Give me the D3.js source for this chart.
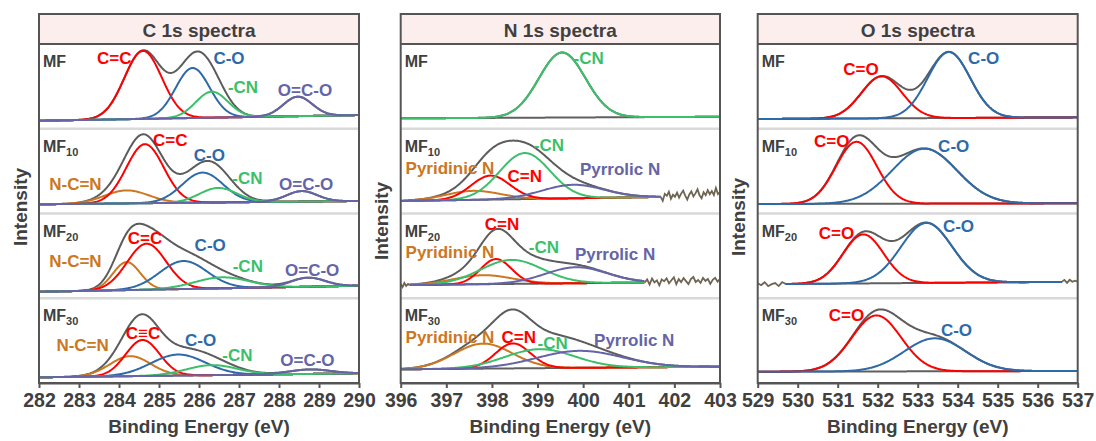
<!DOCTYPE html>
<html>
<head>
<meta charset="utf-8">
<script src="https://cdn.jsdelivr.net/npm/d3@7"></script>
<style>
body { margin: 0; background: #fff; }
text { font-family: "Liberation Sans", Arial, sans-serif; font-weight: bold; }
</style>
</head>
<body>
<div id="chart"></div>
<script>
// ---- data ----
var titles = ["C 1s spectra", "N 1s spectra", "O 1s spectra"];
var sampleNames = ["MF", "MF", "MF", "MF"];
var sampleSubs = ["", "10", "20", "30"];
var energyRanges = [[282, 290], [396, 403], [529, 537]];
var cTicks = [282, 283, 284, 285, 286, 287, 288, 289, 290];
var nTicks = [396, 397, 398, 399, 400, 401, 402, 403];
var oTicks = [529, 530, 531, 532, 533, 534, 535, 536, 537];

// fitted components: [centre eV, height, FWHM eV], null = not fitted
var cNames = ["N-C=N", "C=C", "C-O", "-CN", "O=C-O"];
var cPeaks = [
  [null, [284.60, 68, 1.10], [285.84, 50, 1.00], [286.32, 26, 0.95], [288.47, 19.5, 0.85]],
  [[284.19, 13, 1.30], [284.65, 59, 1.10], [286.09, 30, 1.20], [286.48, 14.5, 1.10], [288.57, 10.5, 0.90]],
  [[284.19, 28, 0.80], [284.69, 46, 1.15], [285.61, 28, 1.40], [286.57, 11, 1.60], [288.73, 9, 1.00]],
  [[284.28, 20, 1.20], [284.59, 36, 1.00], [285.48, 21, 1.60], [286.32, 10, 1.50], [288.78, 4.5, 1.20]]
];
var cBackground = [[2, 7.7], [3.2, 6.5], [0.5, 6.5], [-0.3, 3.7]];

var nNames = ["Pyridinic N", "C=N", "-CN", "Pyrrolic N"];
var nPeaks = [
  [null, null, [399.54, 65, 1.20], null],
  [[397.59, 9, 1.40], [397.97, 24, 1.00], [398.72, 46, 1.30], [399.78, 13.5, 1.60]],
  [[397.81, 9, 1.50], [398.09, 25, 0.80], [398.43, 24, 1.60], [399.85, 16, 1.60]],
  [[397.81, 25, 1.50], [398.46, 25, 0.90], [399.05, 19, 1.80], [399.92, 17, 2.20]]
];
var nBackground = [[4.4, 6], [6.5, 11.5], [7.2, 10.5], [7.7, 10.3]];

var oNames = ["C=O", "C-O"];
var oPeaks = [
  [[532.10, 42, 1.20], [533.78, 66, 1.25]],
  [[531.47, 62, 1.20], [533.17, 55, 1.90]],
  [[531.64, 49, 1.20], [533.22, 60, 1.50]],
  [[531.97, 56, 1.45], [533.43, 33, 1.80]]
];
var oBackground = [[3.75, 5.4], [3.5, 4.2], [8, 10.5], [5.3, 6]];

// energy window of each fit; outside it only raw counts are shown
var nFitRange = [[396, 403], [396, 401.7], [396.2, 401.35], [396, 403]];
var oFitRange = [[529, 537], [529, 537], [529.7, 536.6], [529, 537]];

// raw counts outside the fit window (offset from background)
var nRaw = [
  [],
  [{from: 401.7, to: 403, values: [0, -4, 3, 1, 5, -2, 2, 0, 4, -1, 3, 6, 1, -3, 2, 5, 0, 3, 7, 1, -2, 4, 1, 6, 2, 5, 1, 8, 2, 4]}],
  [{from: 396, to: 396.2, values: [1, -2, 2, -1, 1, 0]},
   {from: 401.35, to: 403, values: [0, 3, -2, 4, 0, 2, -3, 3, 1, 4, -1, 2, 5, -2, 3, 0, 4, 1, -2, 3, 5, 0, 2, -1, 4, 1, 3, -2, 2, 4, 0, 3]}],
  []
];
var oRaw = [
  [],
  [],
  [{from: 529, to: 529.7, values: [1, -1, 2, -2, 0, 1, -2, 2, 0]},
   {from: 536.6, to: 537, values: [0, 2, -1, 2, 0, 1, 0]}],
  []
];

var colorMap = {
  "N-C=N": "#cc7722", "Pyridinic N": "#cc7722",
  "C=C": "#ff0000", "C=N": "#ff0000", "C=O": "#ff0000",
  "C-O": "#2f6aa8",
  "-CN": "#3cbf6a",
  "O=C-O": "#6464a6", "Pyrrolic N": "#6464a6"
};

// ---- layout ----
var labelAt = {
  C: [
    [["C=C", 283.88, 64.75], ["C-O", 286.75, 64.75], ["-CN", 287.1, 35.75], ["O=C-O", 288.65, 32.75]],
    [["C=C", 285.28, 67.5], ["C-O", 286.26, 52.5], ["-CN", 287.21, 29.5], ["N-C=N", 282.91, 23.5], ["O=C-O", 288.68, 23.5]],
    [["C=C", 284.65, 54], ["N-C=N", 282.91, 30.5], ["C-O", 286.28, 47.25], ["-CN", 287.22, 25.5], ["O=C-O", 288.83, 22.25]],
    [["C\u2261C", 284.6, 44, "C=C"], ["N-C=N", 283.09, 32], ["C-O", 286.04, 37], ["-CN", 286.96, 22], ["O=C-O", 288.71, 17]]
  ],
  N: [
    [["-CN", 400.12, 64.75]],
    [["-CN", 399.25, 62.5], ["Pyridinic N", 397.08, 39.2], ["C=N", 398.72, 30.8], ["Pyrrolic N", 400.81, 38.5]],
    [["C=N", 398.22, 68.25], ["Pyridinic N", 397.08, 40], ["-CN", 399.14, 45], ["Pyrrolic N", 400.7, 38.25]],
    [["Pyridinic N", 397.08, 39.3], ["C=N", 398.59, 39.3], ["-CN", 399.33, 33.7], ["Pyrrolic N", 401.12, 37]]
  ],
  O: [
    [["C=O", 531.58, 53.75], ["C-O", 534.65, 64.4]],
    [["C=O", 530.85, 65.8], ["C-O", 533.9, 61.5]],
    [["C=O", 530.97, 59.25], ["C-O", 534.02, 65.6]],
    [["C=O", 531.22, 62], ["C-O", 533.97, 46.3]]
  ]
};

var panels = [
  {title: titles[0], range: energyRanges[0], ticks: cTicks, names: cNames, peaks: cPeaks, bg: cBackground,
   fit: null, raw: null, labels: labelAt.C, left: 39, right: 359, intensityY: 207},
  {title: titles[1], range: energyRanges[1], ticks: nTicks, names: nNames, peaks: nPeaks, bg: nBackground,
   fit: nFitRange, raw: nRaw, labels: labelAt.N, left: 400.7, right: 720, intensityY: 221},
  {title: titles[2], range: energyRanges[2], ticks: oTicks, names: oNames, peaks: oPeaks, bg: oBackground,
   fit: oFitRange, raw: oRaw, labels: labelAt.O, left: 757.7, right: 1077.7, intensityY: 217}
];

var width = 1096, height = 441;
var frameTop = 14, plotTop = 44, plotBottom = 383;
var rowH = (plotBottom - plotTop) / 4;
var textColor = "#404040", frameColor = "#555555";

var svg = d3.select("#chart").append("svg")
  .attr("width", width)
  .attr("height", height);

function gauss(p, e) {
  return p[1] * Math.exp(-4 * Math.LN2 * (e - p[0]) * (e - p[0]) / (p[2] * p[2]));
}

panels.forEach(function(pan) {
  var g = svg.append("g");
  var x = d3.scaleLinear().domain(pan.range).range([pan.left, pan.right]);

  // title box
  g.append("rect")
    .attr("x", pan.left).attr("y", frameTop)
    .attr("width", pan.right - pan.left).attr("height", plotTop - frameTop)
    .attr("fill", "#fdeeee");
  g.append("text")
    .attr("x", (pan.left + pan.right) / 2).attr("y", (frameTop + plotTop) / 2 + 1)
    .attr("text-anchor", "middle").attr("dominant-baseline", "central")
    .style("font-size", "19px").attr("fill", textColor)
    .text(pan.title);

  // row separators
  for (var r = 1; r < 4; r++) {
    g.append("line")
      .attr("x1", pan.left).attr("x2", pan.right)
      .attr("y1", plotTop + r * rowH).attr("y2", plotTop + r * rowH)
      .attr("stroke", "#d9d9d9").attr("stroke-width", 2.5);
  }

  sampleNames.forEach(function(s, r) {
    var rowTop = plotTop + r * rowH;
    var zero = rowTop + rowH - 6;
    var y = d3.scaleLinear().domain([0, 80]).range([zero, zero - 80]);
    var bgL = pan.bg[r][0], bgR = pan.bg[r][1];
    var bg = function(e) {
      return bgL + (bgR - bgL) * (e - pan.range[0]) / (pan.range[1] - pan.range[0]);
    };
    var fr = pan.fit ? pan.fit[r] : pan.range;
    var grid = d3.range(fr[0], fr[1] + 0.001, 0.02);
    var line = d3.line().x(function(d) { return x(d[0]); }).y(function(d) { return y(d[1]); });
    var rowPeaks = pan.peaks[r];

    // raw counts outside the fit window
    if (pan.raw) {
      pan.raw[r].forEach(function(seg) {
        var step = (seg.to - seg.from) / (seg.values.length - 1);
        var pts = seg.values.map(function(v, i) {
          var e = seg.from + i * step;
          return [e, bg(e) + v];
        });
        g.append("path").attr("d", line(pts))
          .attr("fill", "none").attr("stroke", "#6e6452").attr("stroke-width", 1.8);
      });
    }

    // background
    g.append("path")
      .attr("d", line(grid.map(function(e) { return [e, bg(e)]; })))
      .attr("fill", "none").attr("stroke", "#606060").attr("stroke-width", 2);

    // envelope
    g.append("path")
      .attr("d", line(grid.map(function(e) {
        var s = bg(e);
        rowPeaks.forEach(function(p) { if (p) s += gauss(p, e); });
        return [e, s];
      })))
      .attr("fill", "none").attr("stroke", "#5c5c5c").attr("stroke-width", 2);

    // components
    rowPeaks.forEach(function(p, k) {
      if (!p) return;
      g.append("path")
        .attr("d", line(grid.map(function(e) { return [e, bg(e) + gauss(p, e)]; })))
        .attr("fill", "none").attr("stroke", colorMap[pan.names[k]]).attr("stroke-width", 2);
    });

    // sample label
    var t = g.append("text")
      .attr("x", pan.left + 4).attr("y", rowTop + 23)
      .attr("fill", textColor).style("font-size", "16px")
      .text(s);
    if (sampleSubs[r]) {
      t.append("tspan").attr("dy", 4).style("font-size", "11px").text(sampleSubs[r]);
    }

    // peak labels
    pan.labels[r].forEach(function(l) {
      g.append("text")
        .attr("x", x(l[1])).attr("y", y(l[2]))
        .attr("text-anchor", "middle").attr("dominant-baseline", "central")
        .style("font-size", "17px")
        .attr("fill", colorMap[l[3] || l[0]])
        .text(l[0]);
    });
  });

  // frame
  g.append("rect")
    .attr("x", pan.left).attr("y", frameTop)
    .attr("width", pan.right - pan.left).attr("height", plotBottom - frameTop)
    .attr("fill", "none").attr("stroke", frameColor).attr("stroke-width", 2);
  g.append("line")
    .attr("x1", pan.left).attr("x2", pan.right)
    .attr("y1", plotTop).attr("y2", plotTop)
    .attr("stroke", frameColor).attr("stroke-width", 2);

  // x axis
  var ax = g.append("g")
    .attr("transform", "translate(0," + plotBottom + ")")
    .call(d3.axisBottom(x).tickValues(pan.ticks).tickSize(5).tickSizeOuter(0).tickFormat(d3.format("d")));
  ax.select(".domain").attr("stroke", frameColor).attr("stroke-width", 2);
  ax.selectAll(".tick line").attr("stroke", frameColor).attr("stroke-width", 2);
  ax.selectAll(".tick text")
    .attr("y", 10).attr("fill", textColor)
    .style("font-size", "19.5px")
    .style("font-family", "'Liberation Sans', Arial, sans-serif")
    .style("font-weight", "bold");

  g.append("text")
    .attr("x", (pan.left + pan.right) / 2).attr("y", 426)
    .attr("text-anchor", "middle").attr("dominant-baseline", "central")
    .style("font-size", "19px").attr("fill", textColor)
    .text("Binding Energy (eV)");

  g.append("text")
    .attr("transform", "translate(" + (pan.left - 19) + "," + pan.intensityY + ") rotate(-90)")
    .attr("text-anchor", "middle").attr("dominant-baseline", "central")
    .style("font-size", "19px").attr("fill", textColor)
    .text("Intensity");
});
</script>
</body>
</html>
